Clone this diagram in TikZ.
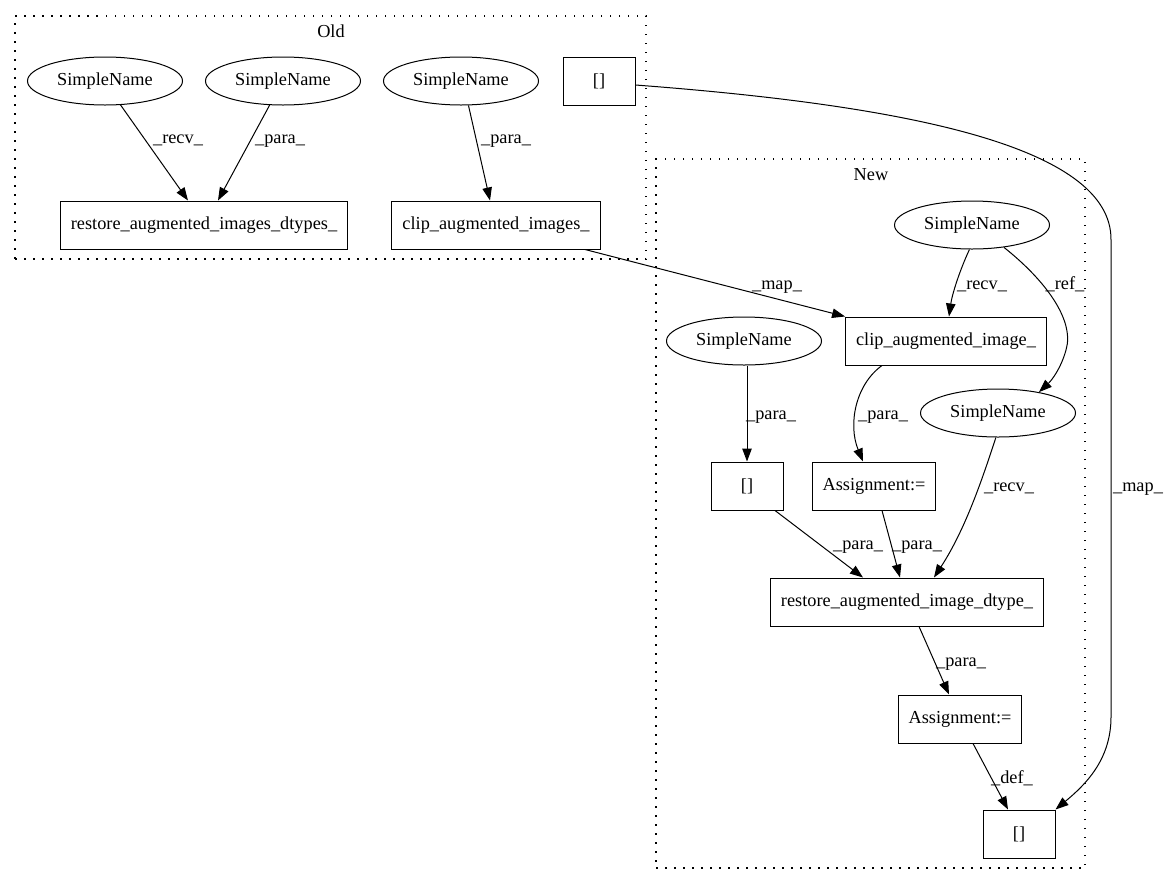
\documentclass[tikz,border=0pt]{standalone}
\usepackage{fontspec}
\setmainfont{Liberation Serif}
\usetikzlibrary{arrows.meta,shapes.geometric}
\begin{document}
\begin{tikzpicture}[x=1pt,y=-1pt,
  every node/.style={font=\fontsize{18.3pt}{22pt}\selectfont},
  sn/.style={ellipse, draw, line width=1pt, minimum width=155pt, minimum height=48pt, inner sep=0pt},
  bx/.style={rectangle, draw, line width=1pt, minimum width=72pt, minimum height=48pt, inner xsep=10.5pt, inner ysep=0pt},
  edge/.style={line width=1pt, -{Triangle[length=13pt,width=9.5pt]}},
  lbl/.style={inner sep=0pt, anchor=base},
  clus/.style={draw, line width=1.3pt, dash pattern=on 1.5pt off 7.5pt, inner sep=0pt},
]
\useasboundingbox (0,0) rectangle (1167,884);
% clusters
\node[clus, minimum width=631pt, minimum height=243pt] (oldc) at (330.5,137.5) {};
\node[inner sep=0pt, anchor=base] (oldl) at (331,37) {Old};
\node[clus, minimum width=429pt, minimum height=709pt] (newc) at (870.5,513.5) {};
\node[inner sep=0pt, anchor=base] (newl) at (871,180) {New};
% old nodes
\node[sn] (o1) at (105,81) {SimpleName};
\node[sn] (o2) at (283,81) {SimpleName};
\node[sn] (o3) at (461,81) {SimpleName};
\node[bx] (oarr) at (599,81) {[]};
\node[bx] (orestore) at (204,225) {restore\_augmented\_images\_dtypes\_};
\node[bx] (oclip) at (496,225) {clip\_augmented\_images\_};
% new nodes
\node[sn] (n1) at (972,225) {SimpleName};
\node[bx] (nclip) at (946,341) {clip\_augmented\_image\_};
\node[sn] (n2) at (744,341) {SimpleName};
\node[sn] (n3) at (998,413) {SimpleName};
\node[bx] (narr) at (747,486) {[]};
\node[bx] (nassign1) at (874,486) {Assignment:=};
\node[bx] (nrestore) at (907,602) {restore\_augmented\_image\_dtype\_};
\node[bx] (nassign2) at (960,719) {Assignment:=};
\node[bx] (narr2) at (1019,834) {[]};
% old edges
\draw[edge] (o1.-57) -- ([xshift=-16pt]orestore.north)
  node[lbl, at={(178,143)}] {\_recv\_};
\draw[edge] (o2.-119) -- ([xshift=14pt]orestore.north)
  node[lbl, at={(280,143)}] {\_para\_};
\draw[edge] (o3.-73) -- ([xshift=-6pt]oclip.north)
  node[lbl, at={(506,143)}] {\_para\_};
% map edges
\draw[edge] ([xshift=89pt]oclip.south) -- (nclip.north west)
  node[lbl, at={(777,289)}] {\_map\_};
\draw[edge] ([yshift=-4pt]oarr.east) .. controls (900,105) and (1112,145) .. (1111,240)
  -- (1111,717) .. controls (1111,760) and (1085,785) .. (narr2.north east)
  node[lbl, at={(1138,491)}] {\_map\_};
% new edges
\draw[edge] (n1.-96) .. controls (959,272) and (952,295) .. ([xshift=3pt]nclip.north)
  node[lbl, at={(982,289)}] {\_recv\_};
\draw[edge] (n1.-35) .. controls (1045,280) and (1075,320) .. (1066,350)
  .. controls (1061,368) and (1052,380) .. (n3.27)
  node[lbl, at={(1065,289)}] {\_ref\_};
\draw[edge] (narr.north |- n2.south) -- (narr.north)
  node[lbl, at={(771,419)}] {\_para\_};
\draw[edge] ([xshift=-64pt]nclip.south) .. controls (855,385) and (848,425) .. ([xshift=-11pt]nassign1.north)
  node[lbl, at={(883,419)}] {\_para\_};
\draw[edge] ([xshift=28pt]narr.south) -- ([xshift=-44pt]nrestore.north)
  node[lbl, at={(858,549)}] {\_para\_};
\draw[edge] ([xshift=8pt]nassign1.south) -- ([xshift=-7pt]nrestore.north)
  node[lbl, at={(917,549)}] {\_para\_};
\draw[edge] (n3.-95) .. controls (982,480) and (965,530) .. ([xshift=27pt]nrestore.north)
  node[lbl, at={(1009,491)}] {\_recv\_};
\draw[edge] ([xshift=12pt]nrestore.south) -- ([xshift=-11pt]nassign2.north)
  node[lbl, at={(961,666)}] {\_para\_};
\draw[edge] ([xshift=13pt]nassign2.south) -- ([xshift=-11pt]narr2.north)
  node[lbl, at={(1012,783)}] {\_def\_};
\end{tikzpicture}
\end{document}
